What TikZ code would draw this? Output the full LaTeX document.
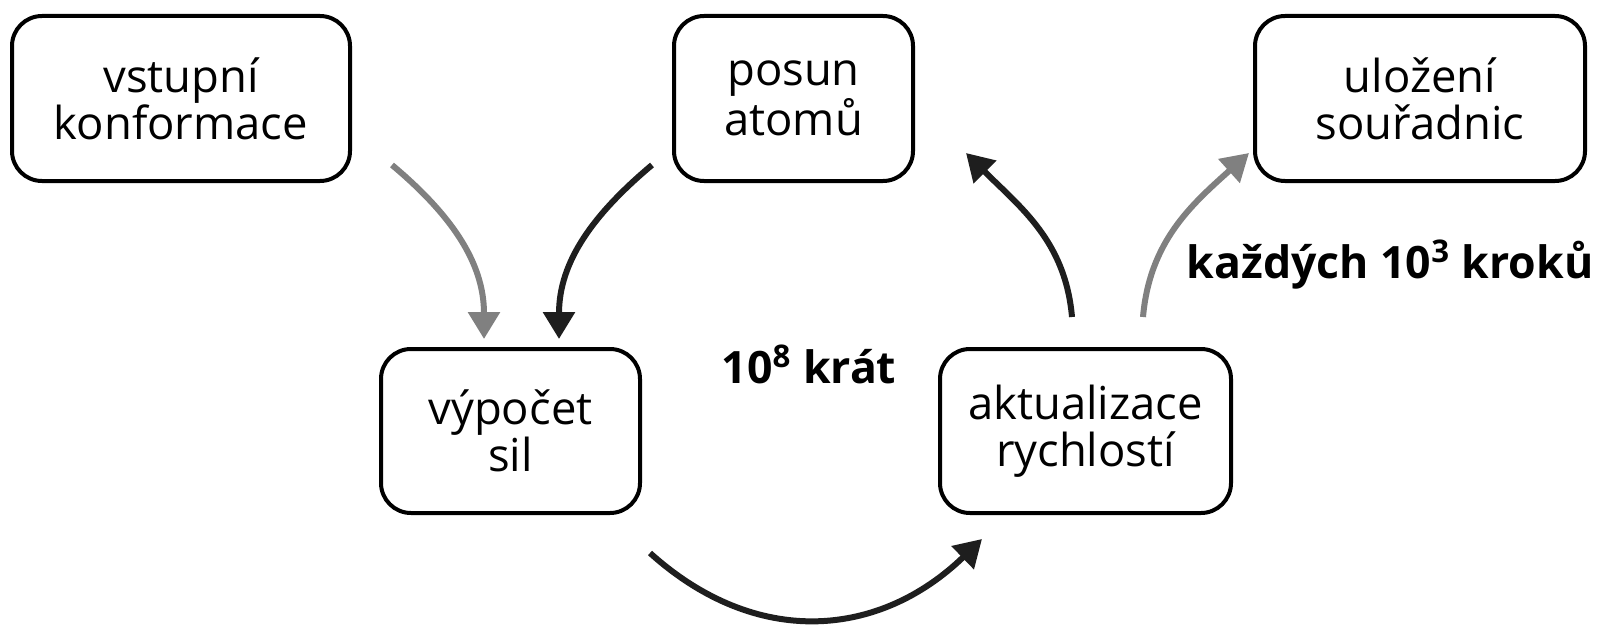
\documentclass[tikz,border=0pt]{standalone}
\usepackage{fontspec}
\setmainfont{Open Sans}
\usepackage{tikz}
\usepackage{xcolor}
\usetikzlibrary{arrows.meta, positioning}

\definecolor{darkline}{HTML}{1E1E1E}
\definecolor{grayline}{HTML}{808080}

\begin{document}
\begin{tikzpicture}[x=0.5pt, y=0.5pt,
        box/.style={draw, line width=2pt, rounded corners=15pt, align=center,
            minimum height=82.5pt, font=\fontsize{22.7}{23.5}\selectfont},
        flow/.style={-{Triangle[length=13.5pt, width=15.5pt]}, line width=3pt, darkline},
        side/.style={flow, grayline},
        note/.style={anchor=base, font=\fontsize{22.3}{23.5}\selectfont\bfseries}]
        \useasboundingbox (0, 0) rectangle (1600, 639);

        \node[box, minimum width=169pt] (vstup) at (181, 540.5) {vstupní\\konformace};
        \node[box, minimum width=119.5pt] (posun) at (793.5, 540.5) {posun\\atomů};
        \node[box, minimum width=165pt] (ulozeni) at (1420, 540.5) {uložení\\souřadnic};
        \node[box, minimum width=129.5pt, minimum height=82pt] (vypocet) at (510.5, 208) {výpočet\\sil};
        \node[box, minimum width=145.5pt, minimum height=82pt] (aktual) at (1085.5, 208) {aktualizace\\rychlostí};

        \coordinate (vstupout) at (392, 474);
        \coordinate (posunout) at (652, 474);
        \coordinate (vypocetin1) at (484, 300);
        \coordinate (vypocetin2) at (559, 300);
        \coordinate (vypocetout) at (650, 86);
        \coordinate (aktualin) at (982, 100);
        \coordinate (aktualout1) at (1072, 322);
        \coordinate (aktualout2) at (1143, 322);
        \coordinate (posunin) at (966, 486);
        \coordinate (ulozeniin) at (1249, 486);

        \draw[side] (vstupout) to[out=-40, in=90] (vypocetin1);
        \draw[flow] (posunout) to[out=220, in=90] (vypocetin2);
        \draw[flow] (vypocetout) to[out=-42, in=-136, looseness=1.1] (aktualin);
        \draw[flow] (aktualout1) to[out=95, in=-45] (posunin);
        \draw[side] (aktualout2) to[out=85, in=222] (ulozeniin);

        \node[note] (opakovani) at (809, 256) {10\textsuperscript{8} krát};
        \node[note] (kroky) at (1390, 361) {každých 10\textsuperscript{3} kroků};
    \end{tikzpicture}
\end{document}
